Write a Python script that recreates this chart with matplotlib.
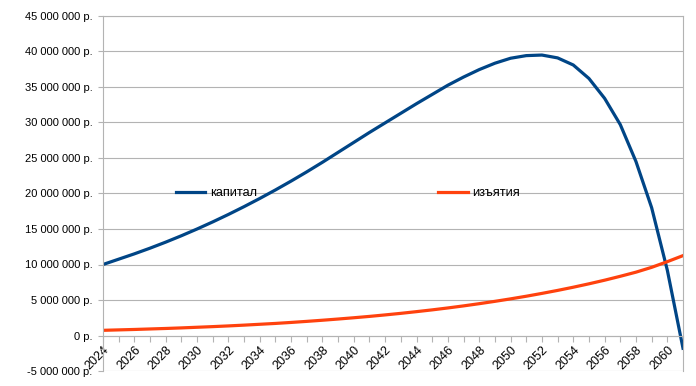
import numpy as np
import matplotlib
matplotlib.use("Agg")
import matplotlib.pyplot as plt
from matplotlib.ticker import FuncFormatter, MultipleLocator

plt.rcParams['font.family'] = ['Liberation Sans', 'DejaVu Sans']

years = list(range(2024, 2062))

# millions of roubles
capital = [10.0, 10.75, 11.5, 12.3, 13.15, 14.05, 15.0, 16.0, 17.05, 18.15,
           19.3, 20.5, 21.75, 23.05, 24.4, 25.8, 27.2, 28.6, 29.95, 31.3,
           32.65, 33.95, 35.25, 36.4, 37.45, 38.35, 39.05, 39.42, 39.5, 39.1,
           38.1, 36.2, 33.4, 29.7, 24.5, 18.0, 9.2, -1.8]
withdrawals = [0.73, 0.79, 0.85, 0.92, 0.99, 1.07, 1.16, 1.25, 1.35, 1.46,
               1.58, 1.70, 1.84, 1.99, 2.15, 2.32, 2.50, 2.69, 2.90, 3.12,
               3.36, 3.61, 3.88, 4.17, 4.48, 4.81, 5.16, 5.53, 5.93, 6.35,
               6.80, 7.28, 7.79, 8.34, 8.92, 9.60, 10.40, 11.25]

series_names = ["капитал", "изъятия"]
colors = ["#004586", "#ff420e"]
grid_color = "#b3b3b3"


def rub(v, pos):
    n = int(round(v))
    s = f"{abs(n):,}".replace(",", " ")
    return ("-" if n < 0 else "") + s + " р."


fig = plt.figure(figsize=(6.96, 3.86), dpi=100)
ax = fig.add_axes([103 / 696, 1 - 371 / 386, 580 / 696, 355 / 386])

cap = np.array(capital) * 1e6
wd = np.array(withdrawals) * 1e6
ax.plot(years, cap, color=colors[0], lw=2.3, label=series_names[0])
ax.plot(years, wd, color=colors[1], lw=2.3, label=series_names[1])

ax.set_xlim(years[0], years[-1])
ax.set_ylim(-5e6, 45e6)
ax.yaxis.set_major_locator(MultipleLocator(5e6))
ax.yaxis.set_major_formatter(FuncFormatter(rub))
ax.grid(axis="y", color=grid_color, lw=0.8)
ax.set_axisbelow(True)

ax.set_xticks(years[::2])
ax.set_xticks(years, minor=True)
ax.set_xticklabels([str(y) for y in years[::2]])

for sp in ax.spines.values():
    sp.set_color(grid_color)
    sp.set_linewidth(0.8)
ax.spines["bottom"].set_position(("data", 0))

ax.tick_params(axis="x", which="both", direction="out", length=4.3, width=0.8,
               color=grid_color, labelsize=9, pad=1.5)
ax.tick_params(axis="y", direction="out", length=3.6, width=0.8,
               color=grid_color, labelsize=8, pad=4)
for lbl in ax.get_xticklabels():
    lbl.set_rotation(45)
    lbl.set_ha("right")
    lbl.set_va("top")
    lbl.set_rotation_mode("anchor")

fig.legend(loc="center", bbox_to_anchor=(0.5, 0.5), ncol=2, frameon=False,
           fontsize=9.2, handlelength=2.3, handletextpad=0.35, columnspacing=14.2)

fig.savefig("out.png", dpi=100)
